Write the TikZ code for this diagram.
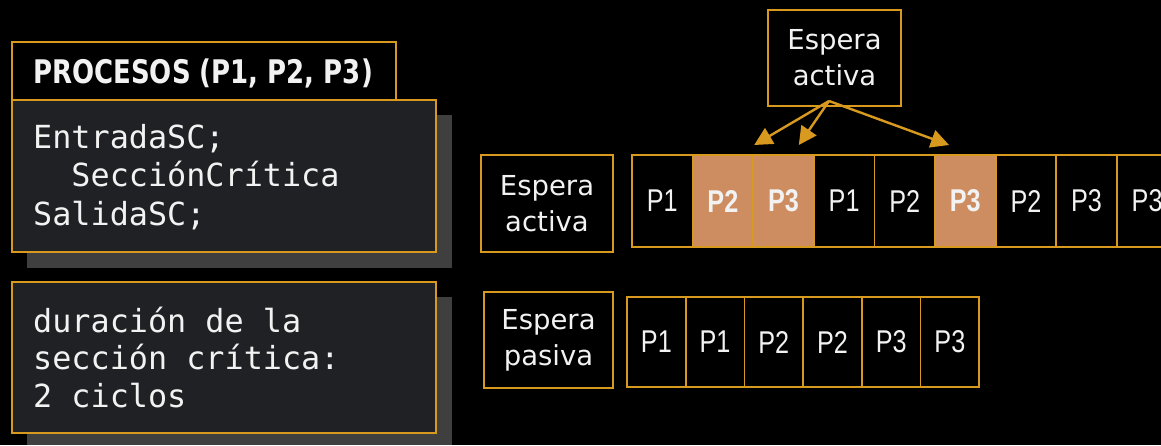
\documentclass[tikz,border=0pt]{standalone}
\usepackage{fontspec}
\usetikzlibrary{arrows.meta,positioning}
\newfontfamily\codefont{DejaVu Sans Mono}
\newfontfamily\labelfont{DejaVu Sans}
\newfontfamily\titlefont[FakeStretch=0.8]{DejaVu Sans Bold}
\newfontfamily\cellfont[FakeStretch=0.8]{Liberation Sans}
\newfontfamily\cellboldfont[FakeStretch=0.8]{Liberation Sans Bold}
\definecolor{gold}{HTML}{D89A1E}
\definecolor{panel}{HTML}{202124}
\definecolor{dropgray}{HTML}{3F3F3F}
\definecolor{hot}{HTML}{CD8D60}
\definecolor{ink}{HTML}{F2F2F2}
\tikzset{
  frame/.style={draw=gold, line width=1.8pt, inner sep=0pt, outer sep=0pt},
  codebox/.style={frame, fill=panel, anchor=north west},
  codetext/.style={text=ink, font=\codefont\fontsize{31.8}{38.5}\selectfont, align=left, anchor=base west, inner sep=0pt},
  tag/.style={frame, fill=black, text=ink, font=\labelfont\fontsize{27.5}{36}\selectfont, align=center},
  cell/.style={frame, fill=black, text=ink, font=\cellfont\fontsize{31.5}{31.5}\selectfont, anchor=north west, minimum height=92pt},
  hotcell/.style={cell, fill=hot, font=\cellboldfont\fontsize{31.5}{31.5}\selectfont},
  pointer/.style={draw=gold, line width=2.4pt, -{Triangle[length=18pt,width=18pt]}}
}
\begin{document}
\begin{tikzpicture}[x=1pt,y=-1pt]
  \fill[black] (0,0) rectangle (1161,445);
  \useasboundingbox (0,0) rectangle (1161,445);

  % left column: title, code panel and note panel, each panel with a drop shadow
  \fill[dropgray] (27,115) rectangle (452,268);
  \node[codebox, minimum width=424pt, minimum height=152pt] (code) at (12,100) {};
  \node[frame, fill=black, anchor=north west, minimum width=384pt, minimum height=58pt] (title) at (12,42) {};
  \node[text=ink, font=\titlefont\fontsize{32.5}{32.5}\selectfont, anchor=base west, inner sep=0pt] (titletext) at (33,83) {PROCESOS (P1, P2, P3)};
  % the base anchor of a multi-line node sits on its last line
  \node[codetext] (codetext) at (33,225) {EntradaSC;\\\ \ SecciónCrítica\\SalidaSC;};

  \fill[dropgray] (27,297) rectangle (452,445);
  \node[codebox, minimum width=424pt, minimum height=151pt] (note) at (12,282) {};
  \node[codetext, font=\codefont\fontsize{31.8}{37.5}\selectfont] (notetext) at (33,407) {duración de la\\sección crítica:\\2 ciclos};

  % busy waiting row
  \node[tag, anchor=north west, minimum width=132pt, minimum height=97pt] (busy) at (481,155) {Espera\\activa};
  \foreach \i/\p/\s in {1/P1/cell, 2/P2/hotcell, 3/P3/hotcell, 4/P1/cell, 5/P2/cell, 6/P3/hotcell, 7/P2/cell, 8/P3/cell, 9/P3/cell}{
    \node[\s, minimum width=60.6pt] (a\i) at ({632+(\i-1)*60.6},155) {\p};
  }

  % passive waiting row
  \node[tag, anchor=north west, minimum width=129pt, minimum height=96pt] (idle) at (484,292) {Espera\\pasiva};
  \foreach \i/\p in {1/P1, 2/P1, 3/P2, 4/P2, 5/P3, 6/P3}{
    \node[cell, minimum width=58.7pt, minimum height=90pt] (b\i) at ({627+(\i-1)*58.7},297) {\p};
  }

  % callout pointing at the busy-waiting slots
  \node[tag, anchor=north west, minimum width=133pt, minimum height=96pt] (callout) at (768,10) {Espera\\activa};
  \coordinate (src) at (829,101);
  \coordinate (t1) at ([shift={(1pt,10pt)}]a2.north east);
  \coordinate (t2) at ([shift={(-15pt,10pt)}]a3.north east);
  \coordinate (t3) at ([shift={(14pt,10pt)}]a6.north west);
  \draw[pointer] (src) -- (t1);
  \draw[pointer] (src) -- (t2);
  \draw[pointer] (src) -- (t3);
\end{tikzpicture}
\end{document}
